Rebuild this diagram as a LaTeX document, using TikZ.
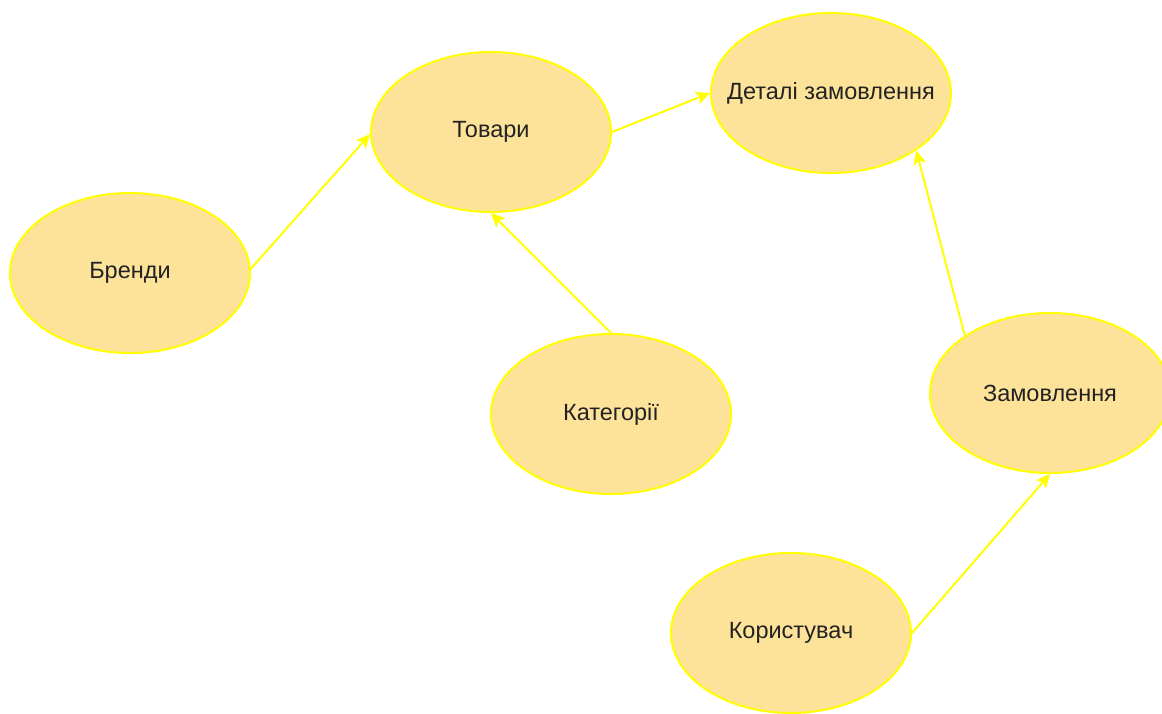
\documentclass[tikz,border=0pt]{standalone}
\usepackage{fontspec}
\setmainfont{Liberation Sans}
\usetikzlibrary{shapes.geometric,arrows.meta}
\definecolor{efill}{HTML}{FDE39A}
\definecolor{estroke}{HTML}{FFFF00}
\definecolor{etext}{HTML}{222222}
\tikzset{
  entity/.style={ellipse, draw=estroke, fill=efill, line width=2pt,
    minimum width=240pt, minimum height=160pt, inner ysep=0pt, inner xsep=-25pt,
    text=etext, font=\fontsize{23.5}{27}\selectfont},
  link/.style={draw=estroke, line width=2pt,
    -{Stealth[length=14pt,width=13pt,inset=3.5pt]}}
}
\begin{document}
\begin{tikzpicture}[x=1pt,y=-1pt]
\clip (0,0) rectangle (1162,713);
\fill[white] (0,0) rectangle (1162,713);
\node[entity] (brand) at (130,273) {Бренди};
\node[entity] (goods) at (491,132) {Товари};
\node[entity] (det) at (831,93) {Деталі замовлення};
\node[entity] (cat) at (611,414) {Категорії};
\node[entity] (ord) at (1050,393) {Замовлення};
\node[entity] (user) at (791,633) {Користувач};
\draw[link] (brand.2) -- (goods.181);
\draw[link] (cat.north) -- (goods.south);
\draw[link] (goods.east) -- (det.west);
\draw[link] (ord.146) -- (det.-34);
\draw[link] (user.east) -- (ord.south);
\end{tikzpicture}
\end{document}
